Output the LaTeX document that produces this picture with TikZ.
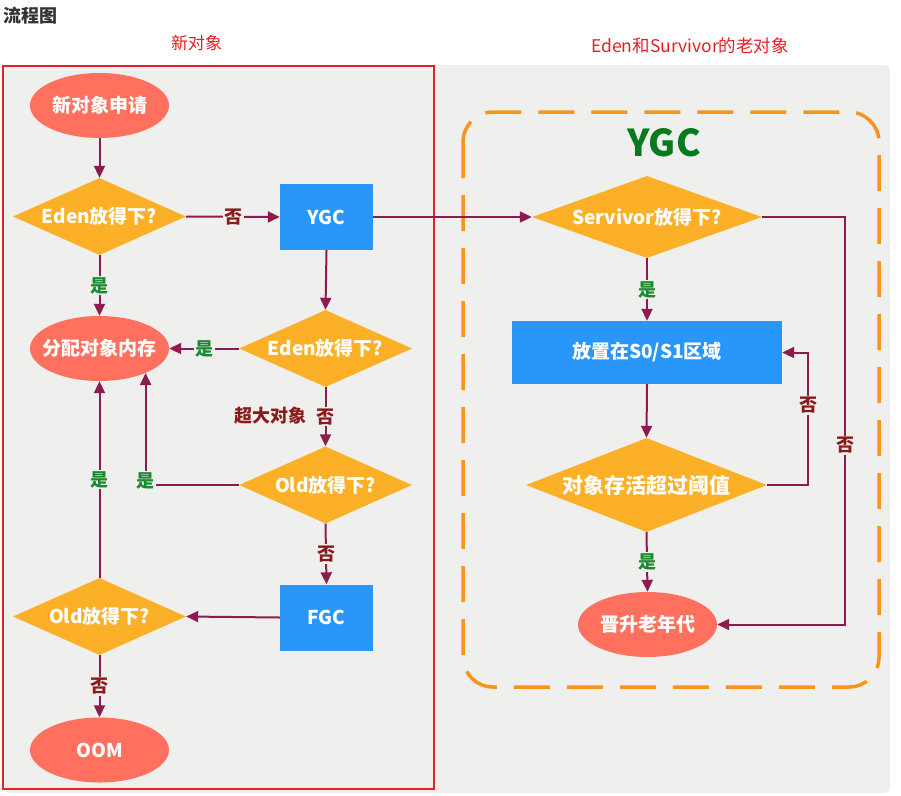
\documentclass[tikz,border=0pt]{standalone}
\usepackage{fontspec}
\setmainfont{Noto Sans CJK SC}
\usetikzlibrary{shapes.geometric,arrows.meta,calc}
\definecolor{bgc}{HTML}{EFF0EE}
\definecolor{ellc}{HTML}{FF705F}
\definecolor{diac}{HTML}{FBB027}
\definecolor{boxc}{HTML}{2996FA}
\definecolor{linec}{HTML}{8E1B4F}
\definecolor{noc}{HTML}{8B1A1A}
\definecolor{yesc}{HTML}{1A8A2E}
\definecolor{ygcgreen}{HTML}{077A20}
\definecolor{orangec}{HTML}{F7941D}
\definecolor{redc}{HTML}{E81E24}
\definecolor{titlec}{HTML}{333333}
\tikzset{
  ntext/.style={text=white, font=\bfseries\fontsize{19}{21}\selectfont},
  ell/.style={ellipse, fill=ellc, minimum width=139pt, minimum height=65pt, inner sep=0pt},
  dia/.style={diamond, fill=diac, minimum width=173pt, minimum height=77pt, inner sep=0pt},
  boxn/.style={rectangle, fill=boxc, minimum width=93pt, minimum height=66pt, inner sep=0pt},
  conn/.style={draw=linec, line width=2pt, -{Triangle[length=12pt,width=11pt]}},
  nolab/.style={fill=bgc, text=noc, inner sep=1.5pt, font=\bfseries\fontsize{18}{19}\selectfont},
  yeslab/.style={fill=bgc, text=yesc, inner sep=1.5pt, font=\bfseries\fontsize{18}{19}\selectfont},
}
\begin{document}
\begin{tikzpicture}[x=1pt,y=-1pt]
\useasboundingbox (0,0) rectangle (901,795);
% background
\fill[bgc, rounded corners=5pt] (5,65) rectangle (890,793);
\draw[redc, line width=1.3pt] (3,66) rectangle (434,789);
% headings
\node[anchor=west, text=titlec, font=\bfseries\fontsize{18}{20}\selectfont, inner sep=0pt] (title) at (3,16) {流程图};
\node[text=redc, font=\fontsize{17}{19}\selectfont, inner sep=0pt] (hleft) at (196.5,43) {新对象};
\node[text=redc, font=\fontsize{17.5}{19}\selectfont, inner sep=0pt] (hright) at (690,46) {Eden和Survivor的老对象};
% dashed YGC region
\draw[orangec, line width=3.5pt, dash pattern=on 36pt off 17pt, rounded corners=30pt] (463,112) rectangle (879,687);
\node[text=ygcgreen, font=\bfseries\fontsize{37}{40}\selectfont, inner sep=0pt] (ygctitle) at (664,143) {YGC};
% left nodes
\node[ell, label={[ntext]center:新对象申请}] (n1) at (99.5,105.5) {};
\node[dia, label={[ntext]center:Eden放得下?}] (d1) at (99.5,216.5) {};
\node[boxn, label={[ntext]center:YGC}] (ygc) at (326.5,217) {};
\node[ell, label={[ntext]center:分配对象内存}] (alloc) at (99.5,348.5) {};
\node[dia, label={[ntext]center:Eden放得下?}] (d2) at (325.5,348.5) {};
\node[dia, label={[ntext]center:Old放得下?}] (d3) at (325.5,485) {};
\node[boxn, label={[ntext]center:FGC}] (fgc) at (326.5,617.5) {};
\node[dia, label={[ntext]center:Old放得下?}] (d4) at (99.5,616.5) {};
\node[ell, label={[ntext]center:OOM}] (oom) at (99.5,750) {};
\node[text=noc, font=\bfseries\fontsize{18}{20}\selectfont, inner sep=0pt] (big) at (270.5,416) {超大对象};
% right nodes
\node[dia, minimum width=230pt, minimum height=82pt, label={[ntext]center:Servivor放得下?}] (d5) at (647,217) {};
\node[boxn, minimum width=270pt, minimum height=63pt, label={[ntext]center:放置在S0/S1区域}] (s01) at (647,352.5) {};
\node[dia, minimum width=241pt, minimum height=94pt, label={[ntext, font=\bfseries\fontsize{21}{23}\selectfont]center:对象存活超过阈值}] (d6) at (646.5,485) {};
\node[ell, label={[ntext]center:晋升老年代}] (promo) at (647.5,624.5) {};
% connectors left
\draw[conn] (n1.south) -- (d1.north);
\draw[conn] (d1.east) -- node[nolab]{否} (ygc.west);
\draw[conn] (d1.south) -- node[yeslab]{是} (alloc.north);
\draw[conn] (ygc.south) -- (d2.north);
\draw[conn] (d2.west) -- node[yeslab]{是} (alloc.east);
\draw[conn] (d2.south) -- node[nolab]{否} (d3.north);
\draw[conn] (d3.west) -| node[yeslab, pos=0.52]{是} (alloc.-28);
\draw[conn] (d3.south) -- node[nolab]{否} (fgc.north);
\draw[conn] (fgc.west) -- (d4.east);
\draw[conn] (d4.north) -- node[yeslab]{是} (alloc.south);
\draw[conn] (d4.south) -- node[nolab]{否} (oom.north);
% connectors right
\draw[conn] (ygc.east) -- (d5.west);
\draw[conn] (d5.south) -- node[yeslab]{是} (s01.north);
\draw[conn] (s01.south) -- (d6.north);
\draw[conn] (d6.south) -- node[yeslab]{是} (promo.north);
\draw[conn] (d6.east) -| node[nolab, pos=0.8]{否} ($(s01.east)+(26,0)$) -- (s01.east);
\draw[conn] (d5.east) -| node[nolab, pos=0.78]{否} ($(promo.east)+(128,0)$) -- (promo.east);
\end{tikzpicture}
\end{document}
